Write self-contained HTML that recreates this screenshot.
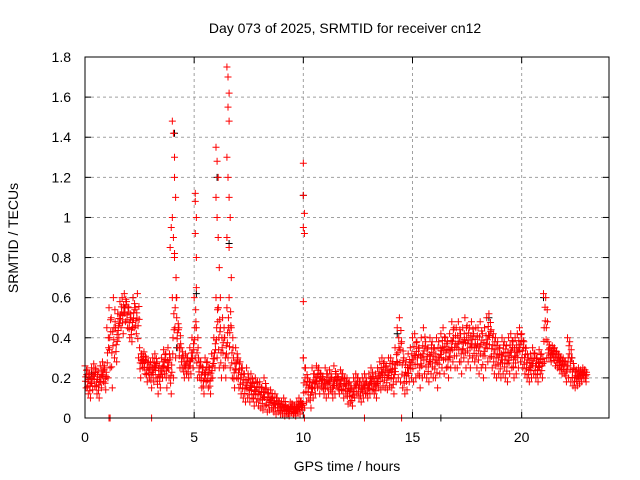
<!DOCTYPE html>
<html><head><meta charset="utf-8"><style>
body{margin:0;background:#fff}
svg{display:block;font-family:"Liberation Sans",sans-serif}
</style></head><body>
<svg id="chart" width="640" height="480" viewBox="0 0 640 480" xmlns="http://www.w3.org/2000/svg">
<rect width="640" height="480" fill="#fff"/>
<text x="345" y="33" font-size="14" text-anchor="middle">Day 073 of 2025, SRMTID for receiver cn12</text>
<g id="grid"></g>
<g id="axes"></g>
<g id="marks"></g>
<rect x="85" y="57" width="524" height="361" fill="none" stroke="#000" stroke-width="1"/>
<text x="347" y="471" font-size="14" text-anchor="middle">GPS time / hours</text>
<text x="18" y="238" font-size="14" text-anchor="middle" transform="rotate(-90 18 238)">SRMTID / TECUs</text>
</svg>
<script>
const xTicks=[0,5,10,15,20];
const yTicks=[0,0.2,0.4,0.6,0.8,1,1.2,1.4,1.6,1.8];
const yTickLabels=["0","0.2","0.4","0.6","0.8","1","1.2","1.4","1.6","1.8"];
const hiValues=[.26,.24,.22,.25,.27,.24,.23,.26,.28,.25,
.45,.55,.5,.6,.45,.52,.58,.6,.62,.58,
.55,.5,.6,.55,.62,.35,.32,.33,.3,.28,
.28,.3,.32,.28,.26,.3,.34,.32,.35,.3,
.6,.8,.5,.45,.35,.3,.32,.3,.35,.4,
.6,.45,.3,.28,.25,.3,.28,.25,.32,.4,
.6,.55,.45,.5,.4,.55,.6,.45,.3,.35,
.3,.28,.25,.22,.25,.2,.22,.18,.2,.18,
.18,.15,.2,.15,.12,.14,.1,.12,.1,.08,
.08,.1,.06,.05,.08,.07,.06,.08,.1,.08,
.3,.25,.2,.18,.25,.22,.26,.25,.22,.2,
.25,.22,.24,.2,.26,.22,.2,.24,.22,.2,
.2,.18,.15,.2,.22,.2,.18,.2,.22,.18,
.22,.25,.2,.22,.25,.28,.3,.28,.26,.3,
.3,.28,.35,.45,.5,.38,.3,.28,.32,.35,
.4,.42,.38,.35,.4,.45,.38,.35,.4,.38,
.35,.4,.38,.42,.45,.4,.38,.42,.48,.45,
.45,.48,.42,.45,.5,.46,.45,.48,.42,.45,
.45,.48,.42,.45,.5,.52,.44,.42,.4,.38,
.35,.4,.38,.36,.4,.42,.38,.4,.42,.45,
.42,.38,.35,.3,.32,.35,.32,.3,.34,.32,
.62,.6,.38,.35,.36,.35,.33,.32,.3,.3,
.28,.4,.38,.3,.25,.24,.25,.24,.25,.24];
const loValues=[.15,.12,.10,.14,.16,.12,.10,.15,.18,.14,
.2,.25,.15,.3,.28,.4,.45,.42,.48,.45,
.4,.38,.45,.42,.3,.2,.25,.22,.18,.2,
.15,.18,.2,.12,.15,.2,.22,.15,.2,.12,
.2,.3,.35,.25,.25,.2,.22,.2,.22,.25,
.3,.2,.2,.15,.12,.18,.15,.12,.2,.25,
.3,.25,.2,.25,.2,.3,.25,.2,.15,.2,
.15,.12,.1,.08,.1,.08,.1,.06,.08,.06,
.05,.04,.06,.03,.04,.05,.03,.02,.03,.02,
.02,.01,.02,.01,.03,.02,.01,.03,.02,.04,
.05,.08,.1,.05,.1,.12,.15,.12,.15,.12,
.1,.12,.14,.1,.12,.15,.12,.14,.1,.12,
.07,.08,.06,.1,.12,.1,.08,.1,.12,.1,
.12,.14,.12,.1,.15,.14,.16,.15,.14,.16,
.15,.12,.18,.2,.18,.15,.12,.14,.18,.2,
.18,.2,.22,.15,.2,.22,.2,.18,.22,.2,
.2,.15,.22,.25,.22,.25,.2,.25,.28,.25,
.25,.28,.22,.3,.25,.28,.25,.3,.28,.25,
.22,.25,.2,.25,.28,.3,.25,.22,.2,.22,
.2,.22,.2,.18,.22,.25,.2,.22,.25,.28,
.25,.22,.2,.18,.2,.22,.2,.18,.22,.2,
.28,.3,.3,.28,.3,.26,.25,.24,.22,.22,
.18,.2,.18,.16,.15,.16,.17,.18,.2,.18];
const spikeTimes=[3.9,3.95,4.0,4.05,4.1,4.1,4.15,4.0,4.05,4.1,4.2,5.05,5.05,5.1,5.05,5.1,5.1,6.0,6.05,6.1,6.0,6.05,6.1,6.15,6.2,6.1,6.5,6.55,6.6,6.55,6.6,6.5,6.55,6.6,6.65,6.5,6.6,6.7,10.0,10.0,10.05,10.0,10.05,10.0,10.0];
const spikeValues=[0.85,0.95,1.48,1.42,1.3,1.2,1.1,1.0,0.9,0.82,0.6,1.12,1.08,1.0,0.92,0.8,0.65,1.35,1.28,1.2,1.1,1.0,0.9,0.75,0.6,0.55,1.75,1.7,1.62,1.55,1.48,1.3,1.2,1.1,1.0,0.9,0.85,0.7,1.27,1.11,1.02,0.95,0.92,0.58,0.3];
const zeroTimes=[1.1,1.15,3.05,10.05,12.8,14.5];
const blackTimes=[0.3,1.8,2.2,4.1,4.2,5.1,6.05,6.6,10.0,14.3,16.3,18.5,21.0,22.3];
const blackValues=[0.22,0.55,0.6,1.42,0.35,0.62,1.2,0.87,1.11,0.42,0.0,0.5,0.6,0.3];

const svg=document.getElementById('chart');
const NS='http://www.w3.org/2000/svg';
const X0=85,X1=609,Y0=418,Y1=57,XMAX=24,YMAX=1.8;
function sx(v){return X0+(X1-X0)*v/XMAX;}
function sy(v){return Y0-(Y0-Y1)*v/YMAX;}
function mk(tag,attrs,parent){const e=document.createElementNS(NS,tag);for(const k in attrs)e.setAttribute(k,attrs[k]);parent.appendChild(e);return e;}
const grid=document.getElementById('grid'),axes=document.getElementById('axes'),marks=document.getElementById('marks');
xTicks.forEach((t,i)=>{
  const x=sx(t);
  if(i>0){const g=mk('line',{x1:x,x2:x,y1:Y0,y2:Y1,stroke:'#a0a0a0','stroke-dasharray':'3,3'},grid);
  
  }
  mk('line',{x1:x,x2:x,y1:Y0,y2:Y0-6,stroke:'#000'},axes);
  mk('line',{x1:x,x2:x,y1:Y1,y2:Y1+6,stroke:'#000'},axes);
  const tx=mk('text',{x:x,y:Y0+24,'font-size':14,'text-anchor':'middle'},axes);
  tx.textContent=String(t);
  
  
});
yTicks.forEach((t,i)=>{
  const y=sy(t);
  if(i>0&&i<yTicks.length-1){const g=mk('line',{x1:X0,x2:X1,y1:y,y2:y,stroke:'#a0a0a0','stroke-dasharray':'3,3'},grid);
  
  }
  mk('line',{x1:X0,x2:X0+6,y1:y,y2:y,stroke:'#000'},axes);
  mk('line',{x1:X1,x2:X1-6,y1:y,y2:y,stroke:'#000'},axes);
  const tx=mk('text',{x:X0-14,y:y+5,'font-size':14,'text-anchor':'end'},axes);
  tx.textContent=yTickLabels[i];
  
  
});
function plus(t,v,color){
  const x=sx(t),y=sy(v);
  const p=mk('path',{d:`M${x-3.5},${y}h7M${x},${y-3.5}v7`,stroke:color,'stroke-width':1,fill:'none'},marks);
  
  
}
blackTimes.forEach((t,i)=>plus(t,blackValues[i],'#000'));
hiValues.forEach((v,i)=>{
  const t=i*0.1,lo=loValues[i];
  plus(t,v,'#f00');
  plus(t+0.05,lo,'#f00');
  plus(t+0.03,(v+lo)/2,'#f00');
  plus(t+0.07,v*0.8+lo*0.2,'#f00');
  plus(t+0.02,v*0.3+lo*0.7,'#f00');
  plus(t+0.08,v*0.6+lo*0.4,'#f00');
});
spikeTimes.forEach((t,i)=>plus(t,spikeValues[i],'#f00'));
zeroTimes.forEach(t=>plus(t,0,'#f00'));
</script>
</body></html>
